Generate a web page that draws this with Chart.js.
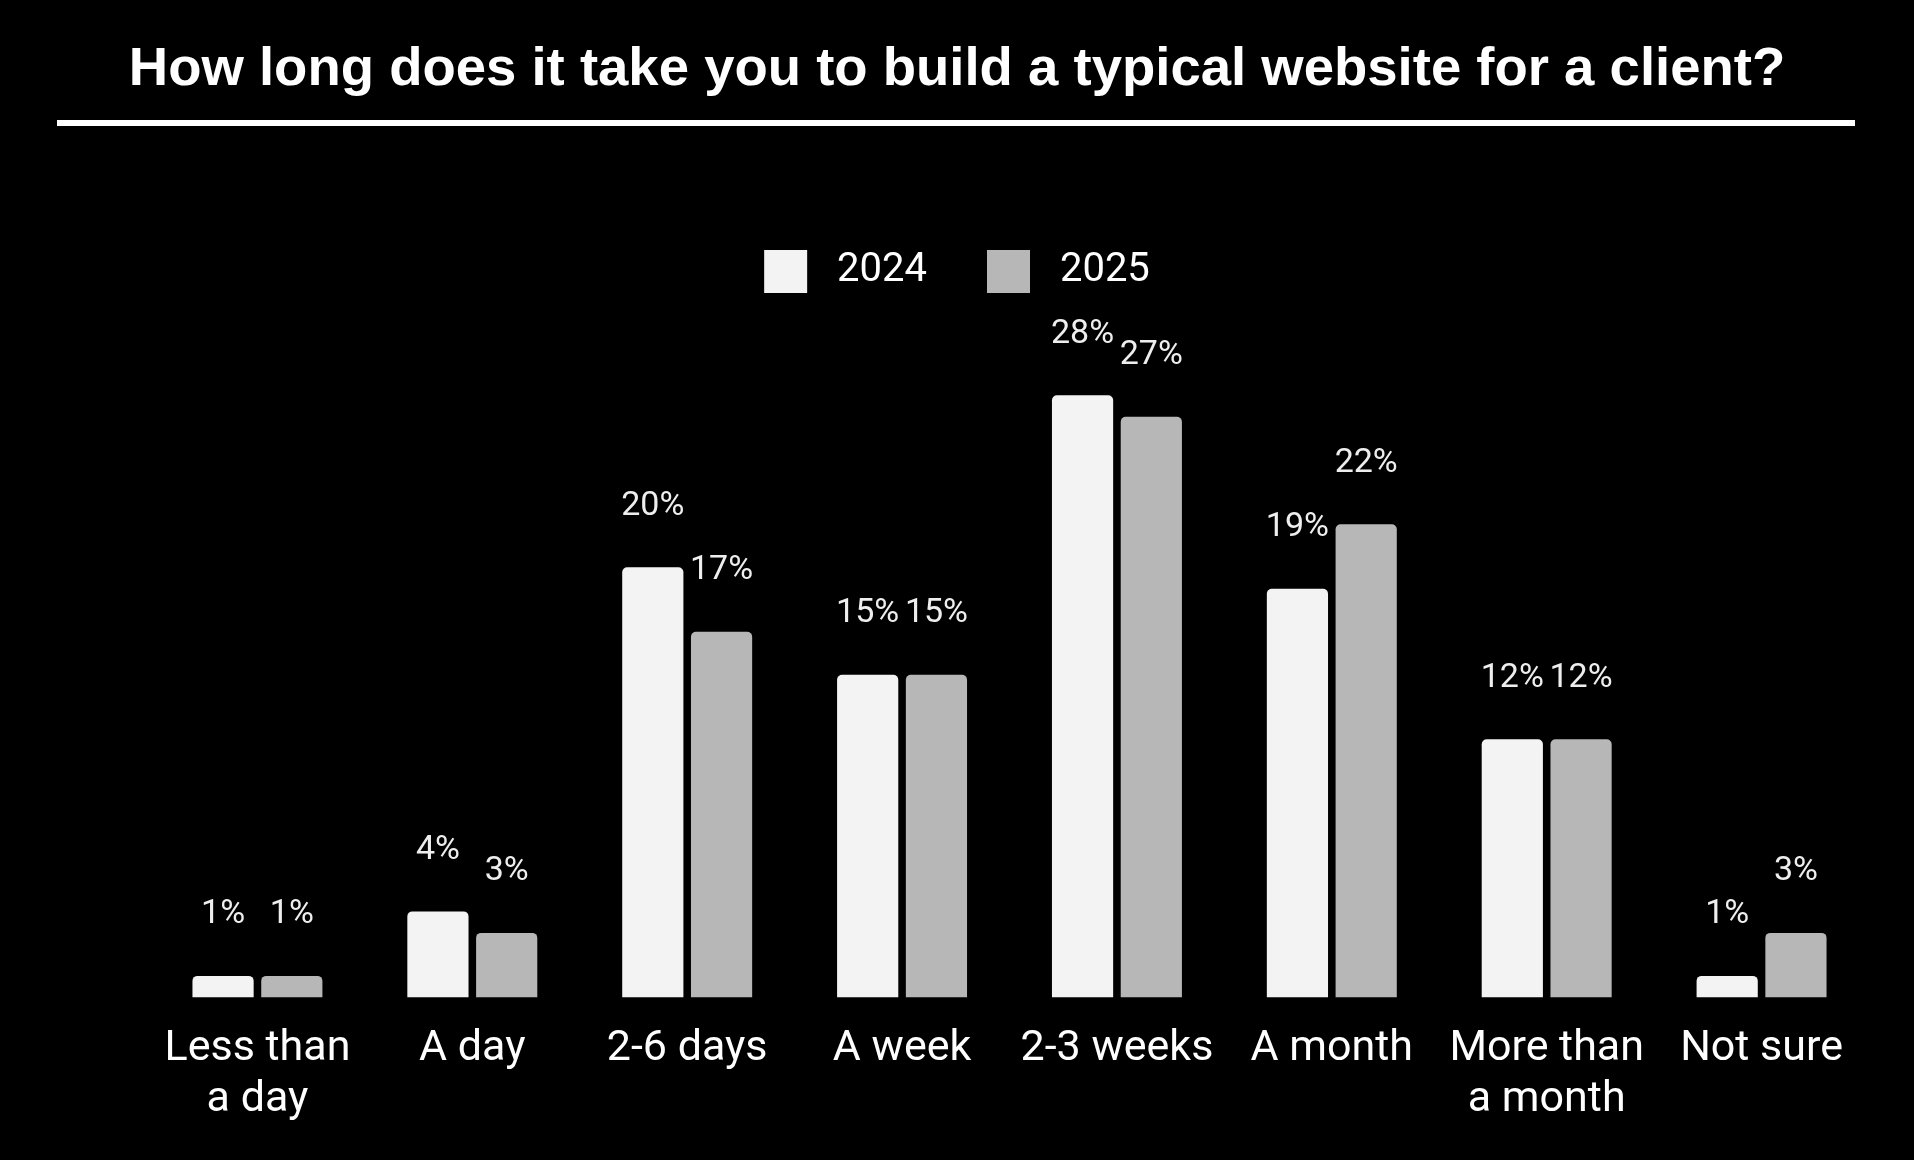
<!DOCTYPE html>
<html>
<head>
<meta charset="utf-8">
<style>
  html, body { margin: 0; padding: 0; background: #000; }
  #wrap { width: 1914px; height: 1160px; }
</style>
<script src="https://cdn.jsdelivr.net/npm/chart.js@4/dist/chart.umd.min.js"></script>
</head>
<body>
<div id="wrap"><canvas id="chart"></canvas></div>
<script>
const titleText = 'How long does it take you to build a typical website for a client?';
const categories = [
    ['Less than', 'a day'],
    'A day',
    '2-6 days',
    'A week',
    '2-3 weeks',
    'A month',
    ['More than', 'a month'],
    'Not sure'
];
const values2024 = [1, 4, 20, 15, 28, 19, 12, 1];
const values2025 = [1, 3, 17, 15, 27, 22, 12, 3];

// white rule under the title
const ruleLine = {
    id: 'ruleLine',
    afterDraw(chart) {
        const ctx = chart.ctx;
        ctx.save();
        ctx.fillStyle = '#ffffff';
        ctx.fillRect(57, 120, 1798, 6);
        ctx.restore();
    }
};

// percentage labels above each bar
const valueLabels = {
    id: 'valueLabels',
    afterDatasetsDraw(chart) {
        const ctx = chart.ctx;
        ctx.save();
        ctx.fillStyle = '#eeeeee';
        ctx.font = '34px Roboto';
        ctx.textAlign = 'center';
        ctx.textBaseline = 'middle';
        chart.data.datasets.forEach((ds, i) => {
            chart.getDatasetMeta(i).data.forEach((bar, j) => {
                ctx.fillText(ds.data[j] + '%', bar.x, bar.y - 61);
            });
        });
        ctx.restore();
    }
};

new Chart(document.getElementById('chart'), {
    type: 'bar',
    data: {
        labels: categories,
        datasets: [{
            label: '2024',
            data: values2024,
            backgroundColor: '#f3f3f3',
            borderRadius: { topLeft: 5, topRight: 5 },
            borderSkipped: 'bottom',
            categoryPercentage: 0.64,
            barPercentage: 0.89
        }, {
            label: '2025',
            data: values2025,
            backgroundColor: '#b7b7b7',
            borderRadius: { topLeft: 5, topRight: 5 },
            borderSkipped: 'bottom',
            categoryPercentage: 0.64,
            barPercentage: 0.89
        }]
    },
    options: {
        responsive: true,
        maintainAspectRatio: false,
        animation: false,
        layout: {
            padding: { left: 45, right: 45, top: 0, bottom: 8 }
        },
        plugins: {
            title: {
                display: true,
                text: titleText,
                color: '#ffffff',
                font: { family: 'Liberation Sans', size: 54.5, weight: 'bold', lineHeight: 1.2 },
                padding: { top: 37.5, bottom: 87 }
            },
            legend: {
                display: true,
                labels: {
                    color: '#ffffff',
                    font: { family: 'Roboto', size: 40 },
                    boxWidth: 43,
                    boxHeight: 43,
                    padding: 60,
                    generateLabels(chart) {
                        return Chart.defaults.plugins.legend.labels.generateLabels(chart)
                            .map(item => ({ ...item, text: ' ' + item.text }));
                    }
                }
            },
            tooltip: { enabled: false }
        },
        scales: {
            x: {
                grid: { display: false, drawTicks: false },
                border: { display: false },
                ticks: {
                    color: '#ffffff',
                    font: { family: 'Roboto', size: 43, lineHeight: 1.17 },
                    padding: 27,
                    maxRotation: 0,
                    autoSkip: false
                }
            },
            y: {
                min: 0,
                max: 32.3,
                grid: { display: false, drawTicks: false },
                border: { display: false },
                ticks: { display: false },
                afterFit(scale) { scale.width = 105; }
            }
        }
    },
    plugins: [ruleLine, valueLabels]
});
</script>
</body>
</html>
